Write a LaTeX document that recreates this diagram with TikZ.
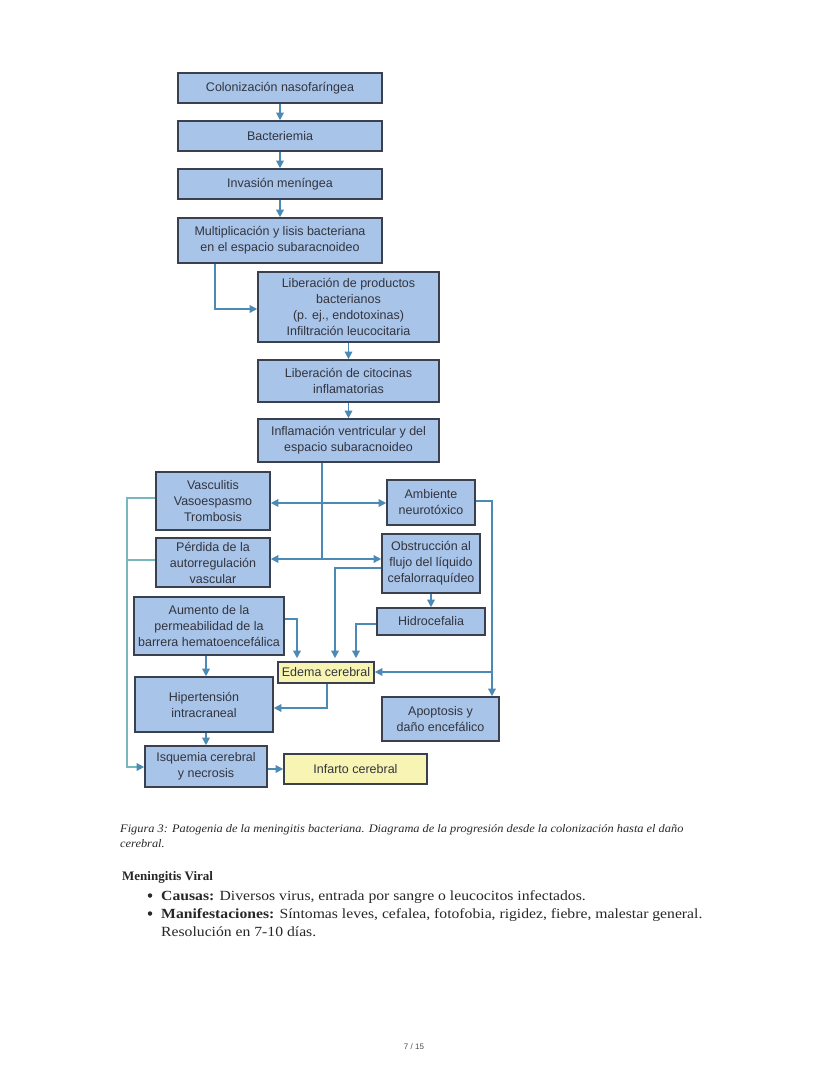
\documentclass[tikz,border=0pt]{standalone}
\usepackage{fontspec}
\setmainfont{Liberation Serif}
\newfontfamily\boxfont{Liberation Sans}
\usetikzlibrary{arrows.meta}
\definecolor{boxfill}{RGB}{168,196,232}
\definecolor{boxline}{RGB}{58,64,78}
\definecolor{yel}{RGB}{248,245,180}
\definecolor{arrc}{RGB}{74,138,181}
\definecolor{tealline}{RGB}{120,184,188}
\definecolor{txt}{RGB}{50,52,62}
\definecolor{body}{RGB}{40,40,40}
\newcommand{\wid}[1]{\scalebox{1.12}[1]{#1}}
\begin{document}
\begin{tikzpicture}[x=1pt,y=-1pt,
  box/.style={draw=boxline, line width=1.6pt, fill=boxfill, inner sep=0pt, align=center,
    font=\boxfont\fontsize{12.5}{16}\selectfont, text=txt},
  ybox/.style={box, fill=yel},
  ln/.style={draw=arrc, line width=1.4pt},
  arr/.style={ln, -{Triangle[length=7.5pt,width=7.5pt]}},
  tl/.style={draw=tealline, line width=1.4pt},
  tlarr/.style={tl, -{Triangle[length=7.5pt,width=7.5pt,color=arrc]}},
  txtline/.style={anchor=base west, text=body, inner sep=0pt},
  bul/.style={circle, fill=body, inner sep=0pt, minimum size=4.5pt}]
\fill[white] (0,0) rectangle (828,1071);
\useasboundingbox (0,0) rectangle (828,1071);
% boxes
\node[box, minimum width=204pt, minimum height=30pt] (colon) at (280,88) {Colonización nasofaríngea};
\node[box, minimum width=204pt, minimum height=30pt] (bact) at (280,136) {Bacteriemia};
\node[box, minimum width=204pt, minimum height=30pt] (inv) at (280,184) {Invasión meníngea};
\node[box, minimum width=204pt, minimum height=45pt] (mult) at (280,240.5) {Multiplicación y lisis bacteriana\\en el espacio subaracnoideo};
\node[box, minimum width=181pt, minimum height=70pt] (libprod) at (348.5,307) {Liberación de productos\\bacterianos\\(p. ej., endotoxinas)\\Infiltración leucocitaria};
\node[box, minimum width=181pt, minimum height=42pt] (citoc) at (348.5,381) {Liberación de citocinas\\inflamatorias};
\node[box, minimum width=181pt, minimum height=43pt] (infl) at (348.5,440.5) {Inflamación ventricular y del\\espacio subaracnoideo};
\node[box, minimum width=114pt, minimum height=58pt] (vasc) at (213,501) {Vasculitis\\Vasoespasmo\\Trombosis};
\node[box, minimum width=88pt, minimum height=45pt] (amb) at (431,502.5) {Ambiente\\neurotóxico};
\node[box, minimum width=114pt, minimum height=49pt] (perd) at (213,562.5) {Pérdida de la\\autorregulación\\vascular};
\node[box, minimum width=98pt, minimum height=59pt] (obst) at (431,563.5) {Obstrucción al\\flujo del líquido\\cefalorraquídeo};
\node[box, minimum width=150pt, minimum height=58pt] (aum) at (209,626) {Aumento de la\\permeabilidad de la\\barrera hematoencefálica};
\node[box, minimum width=108pt, minimum height=27pt] (hidro) at (431,621.5) {Hidrocefalia};
\node[ybox, minimum width=96pt, minimum height=21pt] (edema) at (326,672.5) {Edema cerebral};
\node[box, minimum width=138pt, minimum height=55pt] (hiper) at (204,704.5) {Hipertensión\\intracraneal};
\node[box, minimum width=117pt, minimum height=44pt] (apop) at (440.5,719) {Apoptosis y\\daño encefálico};
\node[box, minimum width=122pt, minimum height=41pt] (isq) at (206,766.5) {Isquemia cerebral\\y necrosis};
\node[ybox, minimum width=143pt, minimum height=30pt] (inf) at (355.5,769) {Infarto cerebral};
% main chain
\draw[arr] (colon.south) -- (bact.north);
\draw[arr] (bact.south) -- (inv.north);
\draw[arr] (inv.south) -- (mult.north);
\coordinate (mL) at (215,309);
\draw[arr] (mult.south -| mL) |- (libprod.west |- mL);
\draw[arr] (libprod.south) -- (citoc.north);
\draw[arr] (citoc.south) -- (infl.north);
% junction
\coordinate (J1) at (322,503);
\coordinate (J2) at (322,559);
\draw[ln] (infl.south -| J1) -- (J2);
\draw[arr] (J1) -- (vasc.east |- J1);
\draw[arr] (J1) -- (amb.west |- J1);
\draw[arr] (J2) -- (perd.east |- J2);
\draw[arr] (J2) -- (obst.west |- J2);
% left line
\coordinate (L1) at (127,498);
\coordinate (L2) at (127,560);
\coordinate (L3) at (127,767);
\draw[tlarr] (vasc.west |- L1) -- (L1) -- (L3) -- (isq.west |- L3);
\draw[tl] (perd.west |- L2) -- (L2);
% right line
\coordinate (R1) at (492,501);
\coordinate (R2) at (492,672);
\draw[arr] (amb.east |- R1) -- (R1) -- (R1 |- apop.north);
\draw[arr] (R2) -- (edema.east |- R2);
% edema inputs
\draw[arr] (obst.south) -- (hidro.north);
\coordinate (E1) at (297,619);
\coordinate (E2) at (335,568);
\coordinate (E3) at (356,624);
\coordinate (E4) at (327,708);
\draw[arr, shorten >=3pt] (aum.east |- E1) -- (E1) -- (E1 |- edema.north);
\draw[arr, shorten >=3pt] (obst.west |- E2) -- (E2) -- (E2 |- edema.north);
\draw[arr, shorten >=3pt] (hidro.west |- E3) -- (E3) -- (E3 |- edema.north);
\draw[arr] (edema.south -| E4) -- (E4) -- (hiper.east |- E4);
\coordinate (V1) at (206,0);
\draw[arr] (aum.south -| V1) -- (hiper.north -| V1);
\draw[arr] (hiper.south -| V1) -- (isq.north -| V1);
\draw[arr] (isq.east |- inf.west) -- (inf.west);
% text below
\node[txtline, font=\itshape\fontsize{11.5}{14}\selectfont] (cap1) at (120,832) {\scalebox{1.075}[1]{Figura 3: Patogenia de la meningitis bacteriana. Diagrama de la progresión desde la colonización hasta el daño}};
\node[txtline, font=\itshape\fontsize{11.5}{14}\selectfont] (cap2) at (120,847) {\scalebox{1.075}[1]{cerebral.}};
\node[txtline, font=\bfseries\fontsize{13}{16}\selectfont] (mv) at (122,880) {Meningitis Viral};
\node[bul] (b1) at (150,895.5) {};
\node[txtline, font=\fontsize{14}{18}\selectfont] (t1) at (161,900) {\wid{\textbf{Causas:} Diversos virus, entrada por sangre o leucocitos infectados.}};
\node[bul] (b2) at (150,913.5) {};
\node[txtline, font=\fontsize{14}{18}\selectfont] (t2) at (161,918) {\wid{\textbf{Manifestaciones:} Síntomas leves, cefalea, fotofobia, rigidez, fiebre, malestar general.}};
\node[txtline, font=\fontsize{14}{18}\selectfont] (t3) at (161,936) {\wid{Resolución en 7-10 días.}};
\node[anchor=base, inner sep=0pt, text=black!70, font=\boxfont\fontsize{8}{10}\selectfont] (pg) at (414,1049) {7 / 15};
\end{tikzpicture}
\end{document}
